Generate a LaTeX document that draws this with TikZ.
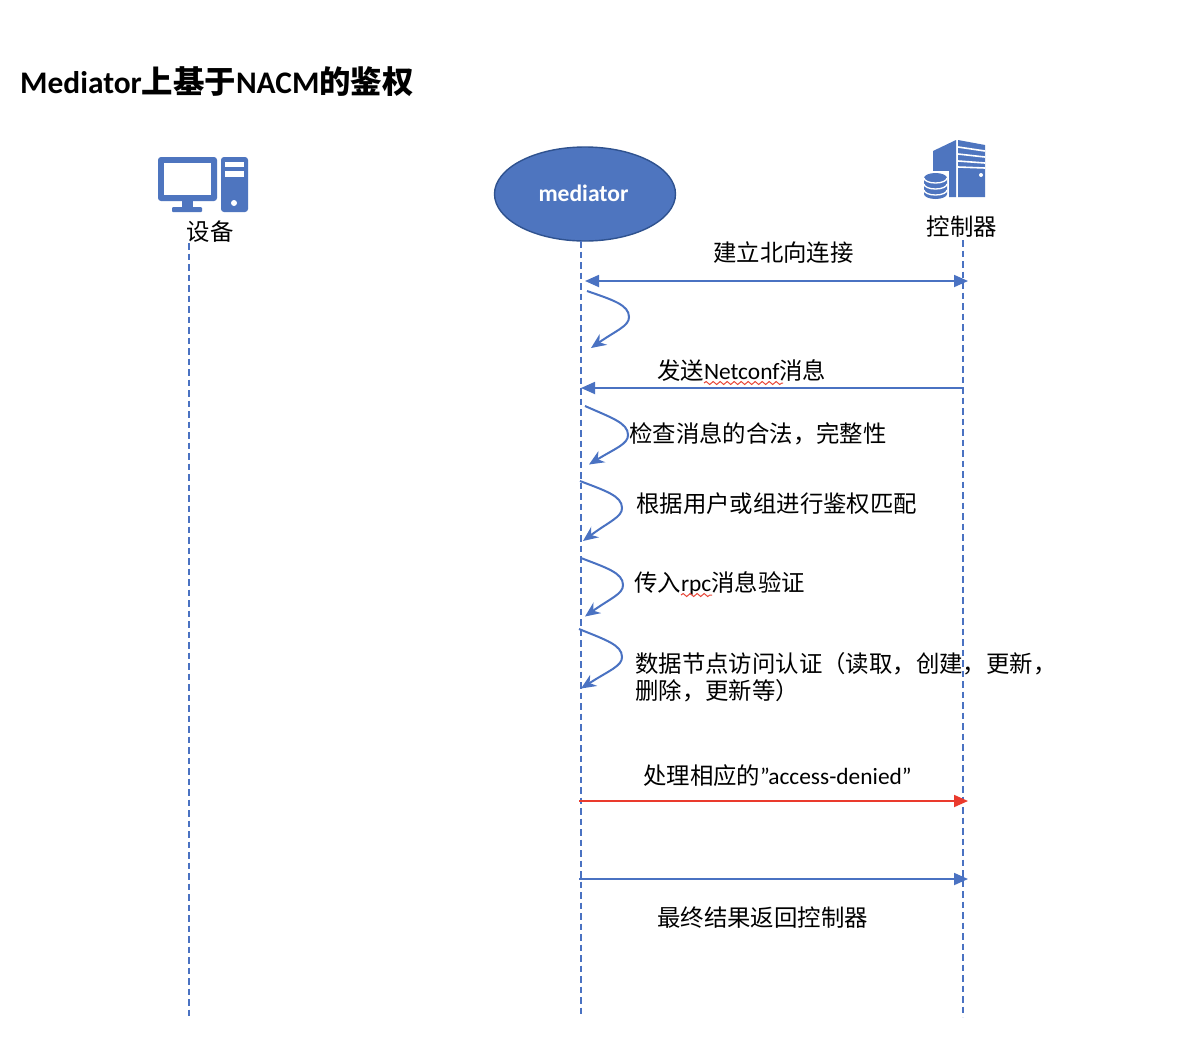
\documentclass[tikz,border=0pt]{standalone}
\usepackage{fontspec}
\setmainfont{Carlito}
\newfontfamily\cjk{Noto Sans CJK SC}
\newfontfamily\cjkb{Noto Sans CJK SC Bold}
\usetikzlibrary{arrows.meta,decorations.pathmorphing,shapes.geometric,calc}
\definecolor{lineblue}{HTML}{4A72C2}
\definecolor{iconblue}{HTML}{4E75BF}
\definecolor{ellborder}{HTML}{2F528F}
\definecolor{redline}{HTML}{EA3A2D}
\definecolor{squig}{HTML}{E8483A}
\tikzset{
  lifeline/.style={draw=lineblue,line width=1.8pt,dash pattern=on 6.5pt off 4pt},
  msg/.style={draw=lineblue,line width=1.8pt,-{Triangle[length=14pt,width=12pt]}},
  msgboth/.style={draw=lineblue,line width=1.8pt,{Triangle[length=14pt,width=12pt]}-{Triangle[length=14pt,width=12pt]}},
  msgred/.style={draw=redline,line width=1.8pt,-{Triangle[length=14pt,width=12pt,fill=redline]}},
  loopline/.style={draw=lineblue,line width=2pt,-{Stealth[length=15pt,width=13pt]}},
  lab/.style={anchor=west,inner sep=0pt,align=left,font=\fontsize{23.4}{27.5}\selectfont,text=black},
  squiggle/.style={draw=squig,line width=1pt,decorate,decoration={snake,amplitude=1.5pt,segment length=7pt}},
  iconfill/.style={fill=iconblue,draw=none},
}
\newcommand{\selfloop}[7]{%
  \coordinate (#1s) at (#2,#3);
  \coordinate (#1p) at (#4,#5);
  \coordinate (#1e) at (#6,#7);
  \draw[loopline] (#1s) .. controls ($(#1p)+(-16,-17)$) and ($(#1p)+(0,-12)$) .. (#1p)
     .. controls ($(#1p)+(0,9)$) and ($(#1p)+(-12,13)$) .. (#1e);
}
\begin{document}
\begin{tikzpicture}[x=1pt,y=-1pt]
\useasboundingbox (0,0) rectangle (1188,1058);
\fill[white] (0,0) rectangle (1188,1058);

% title
\node[anchor=west,inner sep=0pt,font=\fontsize{31.4}{36}\selectfont\bfseries] (title) at (20,82)
  {Mediator{\cjkb 上基于}NACM{\cjkb 的鉴权}};

% device icon
\fill[iconfill,rounded corners=3pt] (158,157) rectangle (217,201);
\fill[white] (164,163) rectangle (211,195);
\fill[iconfill] (182,200) rectangle (193,208);
\fill[iconfill,rounded corners=1pt] (172,207) rectangle (202,212);
\fill[iconfill,rounded corners=3pt] (221,157) rectangle (248,212);
\fill[white] (225,162) rectangle (244,167);
\fill[white] (225,171) rectangle (244,177);
\fill[white] (234,203) circle (3);

% controller icon
\fill[iconfill] (933,151) -- (956,140) -- (956,197) -- (933,197) -- cycle;
\fill[iconfill] (958,140) -- (985,145) -- (985,197) -- (958,197) -- cycle;
\draw[white,line width=1.6pt] (958,147) -- (985,151);
\draw[white,line width=1.6pt] (958,154) -- (985,157);
\draw[white,line width=1.6pt] (958,161) -- (985,163);
\draw[white,line width=1.6pt] (958,167) -- (985,168);
\fill[white] (981,175) circle (2);
\fill[white] (921,171) rectangle (949,201);
\fill[iconfill] (924,178) arc[start angle=180,end angle=360,x radius=11.5,y radius=5] -- (947,194) arc[start angle=0,end angle=180,x radius=11.5,y radius=5] -- cycle;
\draw[white,line width=1.3pt] (924,178) arc[start angle=180,end angle=0,x radius=11.5,y radius=5];
\draw[white,line width=1.3pt] (924,184) arc[start angle=180,end angle=0,x radius=11.5,y radius=5];
\draw[white,line width=1.3pt] (924,190) arc[start angle=180,end angle=0,x radius=11.5,y radius=5];

% headers
\node[draw=ellborder,fill=iconblue,line width=1.4pt,ellipse,minimum width=181pt,minimum height=94pt,inner sep=0pt] (mediator) at (585,194) {};
\node[inner sep=0pt,font=\fontsize{23.6}{27}\selectfont\bfseries,text=white] (medlabel) at (583.5,193.5) {mediator};
\node[lab] (device) at (186.5,232) {\cjk 设备};
\node[lab] (controller) at (926.5,227) {\cjk 控制器};

% lifelines
\coordinate (devtop) at (189,243);
\coordinate (devbot) at (189,1017);
\coordinate (medtop) at (581,241);
\coordinate (medbot) at (581,1017);
\coordinate (ctltop) at (963,240);
\coordinate (ctlbot) at (963,1017);
\draw[lifeline] (devtop) -- (devbot);
\draw[lifeline] (medtop) -- (medbot);
\draw[lifeline] (ctltop) -- (ctlbot);

% messages
\coordinate (m1a) at (585,281); \coordinate (m1b) at (968,281);
\draw[msgboth] (m1a) -- (m1b);
\coordinate (m2a) at (963,388); \coordinate (m2b) at (581,388);
\draw[msg] (m2a) -- (m2b);
\coordinate (m3a) at (579,801); \coordinate (m3b) at (968,801);
\draw[msgred] (m3a) -- (m3b);
\coordinate (m4a) at (579,879); \coordinate (m4b) at (968,879);
\draw[msg] (m4a) -- (m4b);

% self loops
\selfloop{la}{587}{291}{629}{317}{591}{348}
\selfloop{lb}{585}{406}{628}{435}{589}{464.5}
\selfloop{lc}{580}{481}{622}{508}{583}{541}
\selfloop{ld}{581}{558}{623}{585}{585}{616.5}
\selfloop{le}{579}{629}{622}{657}{581}{688.5}

% labels
\node[lab] (t1) at (713,253) {\cjk 建立北向连接};
\node[lab] (t2) at (657,371) {{\cjk 发送}Netconf{\cjk 消息}};
\node[lab] (t3) at (629,433.5) {\cjk 检查消息的合法，完整性};
\node[lab] (t4) at (636,503.5) {\cjk 根据用户或组进行鉴权匹配};
\node[lab] (t5) at (634,583.5) {{\cjk 传入}rpc{\cjk 消息验证}};
\node[lab] (t6) at (635,677) {\cjk 数据节点访问认证（读取，创建，更新，\\\cjk 删除，更新等）};
\node[lab] (t7) at (643,776) {{\cjk 处理相应的}”access-denied”};
\node[lab] (t8) at (657,917.5) {\cjk 最终结果返回控制器};

% spell-check squiggles
\coordinate (sq1a) at (704,383); \coordinate (sq1b) at (783,383);
\draw[squiggle] (sq1a) -- (sq1b);
\coordinate (sq2a) at (681,595); \coordinate (sq2b) at (712,595);
\draw[squiggle] (sq2a) -- (sq2b);
\end{tikzpicture}
\end{document}
